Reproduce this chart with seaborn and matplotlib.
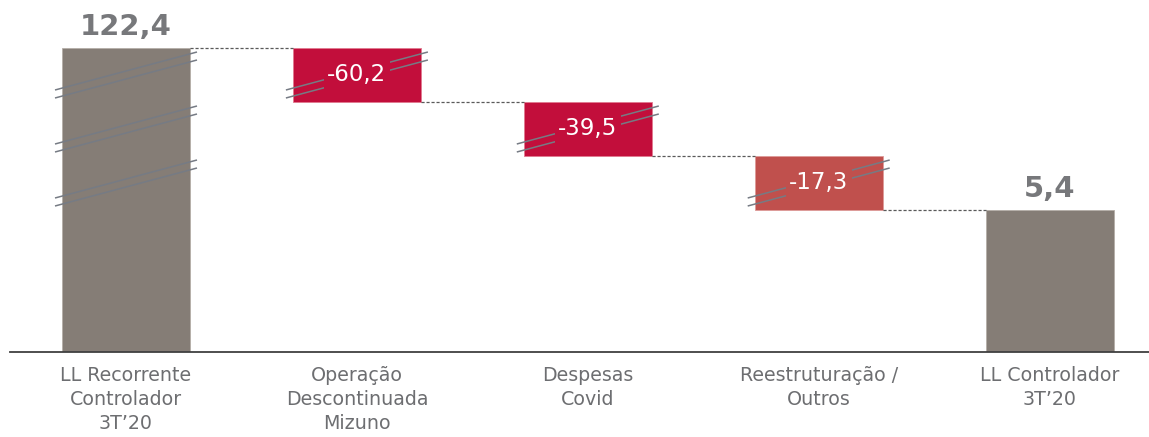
import numpy as np
import pandas as pd
import matplotlib
matplotlib.use("Agg")
import matplotlib.pyplot as plt
import seaborn as sns

# ---- data ----
categories = ["LL Recorrente\nControlador\n3T\u201920",
              "Opera\u00e7\u00e3o\nDescontinuada\nMizuno",
              "Despesas\nCovid",
              "Reestrutura\u00e7\u00e3o /\nOutros",
              "LL Controlador\n3T\u201920"]
values = [122.4, -60.2, -39.5, -17.3, 5.4]
value_labels = ["122,4", "-60,2", "-39,5", "-17,3", "5,4"]
# schematic (broken-axis) drawn heights, as in the original chart
drawn_heights = [304, -54, -54, -54, 142]
kinds = ["total", "delta", "delta", "delta", "total"]
bar_colors = ["#857d76", "#c20e3b", "#c20e3b", "#c0504d", "#857d76"]
edge_colors = ["#b5aea8", "#e07a90", "#e07a90", "#dd9a98", "#b5aea8"]

# ---- waterfall geometry from data ----
bottoms, heights, tops = [], [], []
level = 0.0
for h, k in zip(drawn_heights, kinds):
    if k == "total":
        b, t = 0.0, h
        level = h
    else:
        b, t = level + h, level
        level = level + h
    bottoms.append(b)
    heights.append(t - b)
    tops.append(t)

df = pd.DataFrame({"cat": categories, "height": heights})

sns.set_theme(style="white")
plt.rcParams["font.family"] = ["DejaVu Sans"]

W, H = 1149, 437
fig = plt.figure(figsize=(W / 100, H / 100), dpi=100)
ax = fig.add_axes([10 / W, 85 / H, 1139 / W, 352 / H])

bw = 128 / 230.9
sns.barplot(data=df, x="cat", y="height", bottom=bottoms, width=bw,
            errorbar=None, ax=ax, order=categories, linewidth=0.6,
            color=bar_colors[0], saturation=1)
for p, c, e in zip(ax.patches, bar_colors, edge_colors):
    p.set_facecolor(c)
    p.set_edgecolor(e)
    p.set_linewidth(0.6)

px = 1 / 230.9
ax.set_xlim(-116 * px, (1149 - 126) * px)
ax.set_ylim(0, 352)

# connectors
for i in range(len(categories) - 1):
    y = tops[i] if kinds[i] == "total" else bottoms[i]
    ax.plot([i + bw / 2, i + 1 - bw / 2], [y, y], color="#595959",
            lw=0.9, ls=(0, (2.5, 1.5)), zorder=1)

# break marks
brk = "#767b84"
def brk_pair(xc, yb):
    xl, xr = xc - bw / 2 - 7 * px, xc + bw / 2 + 7 * px
    for off in (12, 4):
        ax.plot([xl, xr], [yb + off, yb + off + 38], color=brk, lw=1.1,
                zorder=3, solid_capstyle="butt")

for i, k in enumerate(kinds):
    if k == "delta":
        brk_pair(i, bottoms[i])
        brk_pair(0, bottoms[i])

# labels
for i, (k, lab) in enumerate(zip(kinds, value_labels)):
    if k == "total":
        ax.text(i, tops[i] + 7, lab, ha="center", va="bottom",
                fontsize=21, fontweight="bold", color="#77787b", zorder=5)
    else:
        ax.text(i, (tops[i] + bottoms[i]) / 2, lab, ha="center",
                va="center", fontsize=16.5, color="white", zorder=5,
                bbox=dict(boxstyle="square,pad=0.15", fc=bar_colors[i],
                          ec="none"))

ax.set_xlabel("")
ax.set_ylabel("")
ax.set_yticks([])
ax.tick_params(axis="x", length=0, pad=10, labelsize=13.7,
               labelcolor="#6d6e71")
for t in ax.get_xticklabels():
    t.set_linespacing(1.35)
for s in ["top", "left", "right"]:
    ax.spines[s].set_visible(False)
ax.spines["bottom"].set_color("#404040")
ax.spines["bottom"].set_linewidth(1.3)

fig.savefig("out.png", dpi=100)
